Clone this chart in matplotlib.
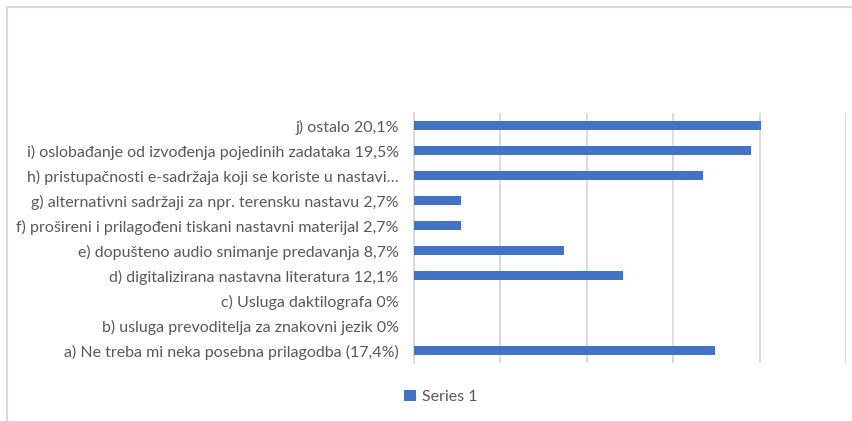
import matplotlib.pyplot as plt
from matplotlib.lines import Line2D
from matplotlib.patches import Patch

# categories bottom -> top, as in the source chart
categories = [
    "a) Ne treba mi neka posebna prilagodba (17,4%)",
    "b) usluga prevoditelja za znakovni jezik 0%",
    "c) Usluga daktilografa 0%",
    "d) digitalizirana nastavna literatura 12,1%",
    "e) dopušteno audio snimanje predavanja 8,7%",
    "f) prošireni i prilagođeni tiskani nastavni materijal 2,7%",
    "g) alternativni sadržaji za npr. terensku nastavu 2,7%",
    "h) pristupačnosti e-sadržaja koji se koriste u nastavi…",
    "i) oslobađanje od izvođenja pojedinih zadataka 19,5%",
    "j) ostalo 20,1%",
]
values = [17.4, 0, 0, 12.1, 8.7, 2.7, 2.7, 16.7, 19.5, 20.1]
xticks = [0, 5, 10, 15, 20, 25]
series_name = "Series 1"

W, H = 853, 421
fig = plt.figure(figsize=(W / 100, H / 100), dpi=100)
plt.rcParams['font.family'] = ['Lato', 'DejaVu Sans']

# chart frame (cropped on the right and bottom)
fig.add_artist(Line2D([7 / W, 1], [1 - 7 / H, 1 - 7 / H], color='#d9d9d9', lw=1.5))
fig.add_artist(Line2D([7 / W, 7 / W], [0, 1 - 7 / H], color='#d9d9d9', lw=1.5))

ax = fig.add_axes([414 / W, 1 - 363 / H, (846 - 414) / W, (363 - 113) / H])
bar_color = '#4472C4'
ypos = range(len(categories))
ax.barh(ypos, values, height=0.36, color=bar_color, zorder=3)

ax.set_xlim(0, 25)
ax.set_ylim(-0.5, len(categories) - 0.5)
ax.set_xticks(xticks)
ax.set_xticklabels([])
ax.tick_params(axis='x', length=0)
ax.set_yticks(list(ypos))
ax.set_yticklabels(categories, fontsize=11.5, color='#595959')
ax.tick_params(axis='y', length=0, pad=11)
ax.grid(axis='x', color='#d9d9d9', lw=1.3, zorder=0)
for s in ['top', 'right', 'bottom']:
    ax.spines[s].set_visible(False)
ax.spines['left'].set_color('#d9d9d9')
ax.spines['left'].set_linewidth(1.3)

handle = Patch(facecolor=bar_color, edgecolor='none')
fig.legend([handle], [series_name], loc='center', bbox_to_anchor=(441 / W, 1 - 397 / H),
           frameon=False, fontsize=11.5, labelcolor='#595959',
           handlelength=0.7, handleheight=0.7, handletextpad=0.4)

fig.savefig('out.png', dpi=100)
